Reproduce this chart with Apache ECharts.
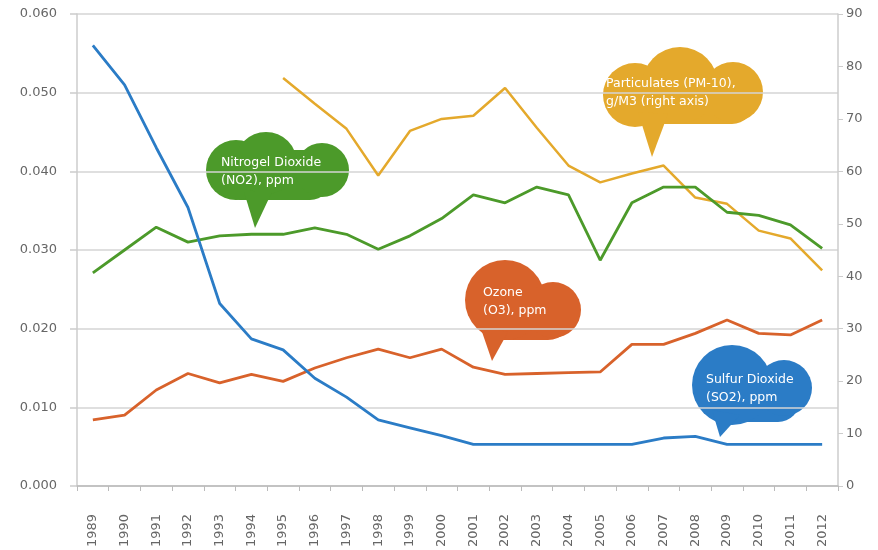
<!DOCTYPE html>
<html>
<head>
<meta charset="utf-8">
<script src="https://cdn.jsdelivr.net/npm/echarts@6/dist/echarts.min.js"></script>
<style>html,body{margin:0;padding:0;background:#fff}#c{width:878px;height:550px}</style>
</head>
<body>
<div id="c"></div>
<script>
const years = ['1989','1990','1991','1992','1993','1994','1995','1996','1997','1998','1999','2000','2001','2002','2003','2004','2005','2006','2007','2008','2009','2010','2011','2012'];
const so2 = [0.056,0.051,0.043,0.0354,0.0232,0.0187,0.0173,0.0137,0.0113,0.0084,0.0074,0.0064,0.0053,0.0053,0.0053,0.0053,0.0053,0.0053,0.0061,0.0063,0.0053,0.0053,0.0053,0.0053];
const no2 = [0.0271,0.030,0.0329,0.031,0.0318,0.032,0.032,0.0328,0.032,0.0301,0.0318,0.034,0.037,0.036,0.038,0.037,0.0287,0.036,0.038,0.038,0.0348,0.0344,0.0332,0.0302];
const o3 = [0.0084,0.009,0.0122,0.0143,0.0131,0.0142,0.0133,0.015,0.0163,0.0174,0.0163,0.0174,0.0151,0.0142,0.0143,0.0144,0.0145,0.018,0.018,0.0194,0.0211,0.0194,0.0192,0.0211];
const pm10 = [null,null,null,null,null,null,77.8,72.9,68.1,59.2,67.7,70.0,70.6,75.9,68.3,61.1,57.9,59.6,61.1,55.0,53.8,48.7,47.2,41.1];
const leftTicks = {min:0, max:0.06, interval:0.01};
const rightTicks = {min:0, max:90, interval:10};

const C = {so2:'#2b7cc6', no2:'#4c9a2a', o3:'#d8622b', pm:'#e4a92c'};
const FONT = 'DejaVu Sans';

function cloud(color, body, circles, tail, lines, tx, ty) {
  const children = [{type:'rect', shape:{x:body[0], y:body[1], width:body[2], height:body[3], r:body[4]}, style:{fill:color}}];
  circles.forEach(c => children.push({type:'circle', shape:{cx:c[0], cy:c[1], r:c[2]}, style:{fill:color}}));
  children.push({type:'polygon', shape:{points:tail}, style:{fill:color}});
  children.push({type:'text', x:tx, y:ty, style:{text:lines.join('\n'), fill:'#fff', font:'12.5px "'+FONT+'"', lineHeight:18, textVerticalAlign:'middle'}});
  return {type:'group', children};
}

const chart = echarts.init(document.getElementById('c'));
const axisLabelStyle = {color:'#666', fontSize:13, fontFamily:FONT};
chart.setOption({
  animation:false,
  grid:{left:77, right:40, top:14, bottom:64},
  xAxis:{type:'category', data:years, boundaryGap:true,
    axisLine:{lineStyle:{color:'#bbb', width:1.5}},
    axisTick:{show:true, length:5, lineStyle:{color:'#bbb'}},
    axisLabel:{rotate:90, align:'left', verticalAlign:'middle', color:'#666', fontSize:13, fontFamily:FONT, margin:61, interval:0}},
  yAxis:[
    {type:'value', min:leftTicks.min, max:leftTicks.max, interval:leftTicks.interval,
      axisLine:{show:true, lineStyle:{color:'#ccc', width:1.5}},
      axisTick:{show:true, length:7, lineStyle:{color:'#ccc', width:1.5}},
      splitLine:{lineStyle:{color:'#d4d4d4', width:1.5}},
      axisLabel:Object.assign({formatter:v=>v.toFixed(3), margin:20}, axisLabelStyle)},
    {type:'value', min:rightTicks.min, max:rightTicks.max, interval:rightTicks.interval, position:'right',
      axisLine:{show:true, lineStyle:{color:'#ccc', width:1.5}},
      axisTick:{show:true, length:5, lineStyle:{color:'#ccc'}},
      splitLine:{show:false},
      axisLabel:Object.assign({margin:8}, axisLabelStyle)}
  ],
  series:[
    {name:'PM-10', type:'line', yAxisIndex:1, data:pm10, symbol:'none', lineStyle:{color:C.pm, width:2.5}, itemStyle:{color:C.pm}},
    {name:'NO2', type:'line', data:no2, symbol:'none', lineStyle:{color:C.no2, width:2.8}, itemStyle:{color:C.no2}},
    {name:'O3', type:'line', data:o3, symbol:'none', lineStyle:{color:C.o3, width:2.8}, itemStyle:{color:C.o3}},
    {name:'SO2', type:'line', data:so2, symbol:'none', lineStyle:{color:C.so2, width:2.8}, itemStyle:{color:C.so2}}
  ],
  graphic:[
    cloud(C.no2, [218,150,114,50,22], [[236,170,30],[266,163,31],[322,170,27]], [[244,192],[272,192],[255,228]], ['Nitrogel Dioxide','(NO2), ppm'], 221, 172),
    cloud(C.o3, [478,285,95,55,25], [[505,300,40],[553,310,28]], [[480,326],[508,332],[492,361]], ['Ozone','(O3), ppm'], 483, 302),
    cloud(C.pm, [612,72,142,52,22], [[635,95,32],[680,85,38],[733,92,30]], [[638,112],[668,114],[652,157]], ['Particulates (PM-10),','g/M3 (right axis)'], 606, 93),
    cloud(C.so2, [702,368,98,54,22], [[732,385,40],[784,388,28]], [[712,410],[740,415],[720,437]], ['Sulfur Dioxide','(SO2), ppm'], 706, 389)
  ]
});
</script>
</body>
</html>
